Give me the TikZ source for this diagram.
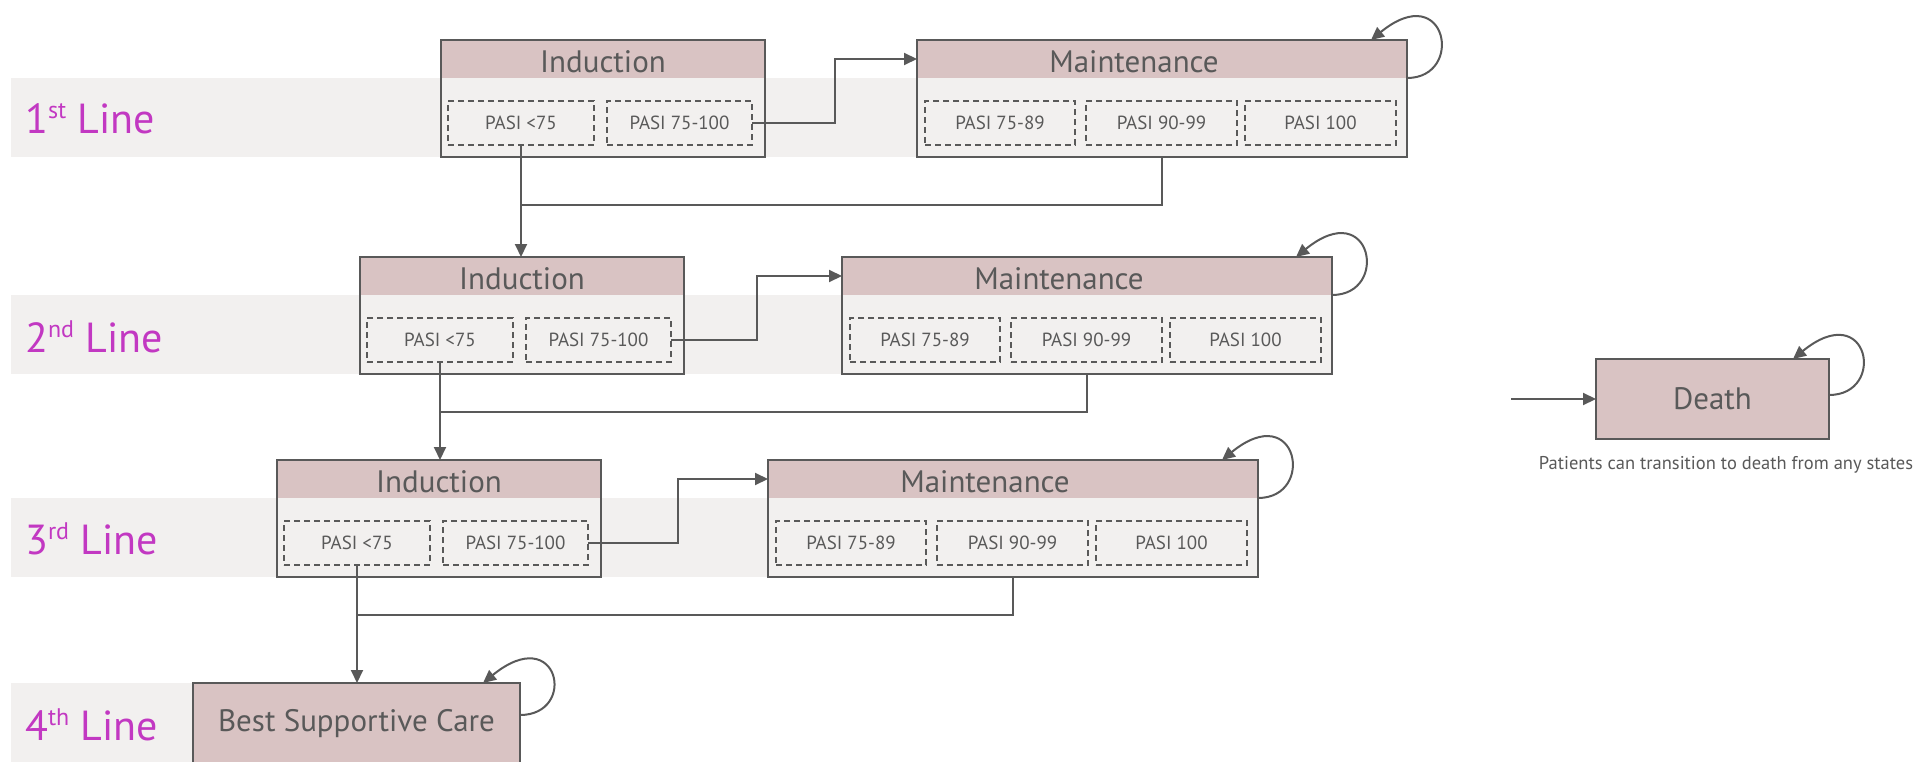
\documentclass[tikz,border=0pt]{standalone}
\usepackage{fontspec}
\setmainfont{PT Sans}
\usetikzlibrary{arrows.meta,calc}

\definecolor{frame}{RGB}{89,89,89}
\definecolor{hdr}{RGB}{217,195,195}
\definecolor{body}{RGB}{242,240,239}
\definecolor{band}{RGB}{242,240,239}
\definecolor{lbl}{RGB}{194,56,194}
\definecolor{ink}{RGB}{89,89,89}

% raised ordinal suffix for the treatment-line labels
\newcommand\ordsup[1]{\raisebox{15pt}{\fontsize{24}{24}\selectfont #1}}

\tikzset{
  stage/.style={draw=frame, line width=2pt, fill=body, anchor=north west,
    inner sep=0pt, outer sep=0pt, text=ink, font=\fontsize{31}{31}\selectfont},
  indbox/.style={stage, minimum width=324pt, minimum height=117pt},
  mntbox/.style={stage, minimum width=490pt, minimum height=117pt},
  frameline/.style={draw=frame, line width=2pt},
  hdtext/.style={text=ink, font=\fontsize{31}{31}\selectfont, inner sep=0pt},
  pasi/.style={draw=frame, line width=2pt, dash pattern=on 6pt off 4pt,
    anchor=north west, minimum height=44pt, inner sep=0pt, outer sep=0pt,
    text=ink, font=\fontsize{19}{19}\selectfont},
  linelabel/.style={anchor=base west, text=lbl, inner sep=0pt,
    font=\fontsize{42}{42}\selectfont},
  conn/.style={draw=frame, line width=2pt},
  flow/.style={conn, -{Triangle[length=13pt,width=12pt]}},
}

\begin{document}
\begin{tikzpicture}[x=1pt, y=-1pt]
\useasboundingbox (0,0) rectangle (1921,762);

% treatment lines 1--3: band, induction box, maintenance box
\foreach \r/\il/\t/\ml in {1/441/40/917, 2/360/257/842, 3/277/460/768}{
  \fill[band] (11,\t+38) rectangle (\ml,\t+117);
  % induction
  \node[indbox] (ind\r) at (\il,\t) {};
  \fill[hdr] (ind\r.north west) rectangle ($(ind\r.north east)+(0,38)$);
  \draw[frameline] (ind\r.north west) rectangle (ind\r.south east);
  \node[hdtext] (indh\r) at ($(ind\r.north)+(0,22)$) {Induction};
  \node[pasi, minimum width=146pt] (lo\r) at ($(ind\r.north west)+(7,61)$) {PASI <75};
  \node[pasi, minimum width=145pt] (hi\r) at ($(ind\r.north west)+(166,61)$) {PASI 75-100};
  % maintenance
  \node[mntbox] (mnt\r) at (\ml,\t) {};
  \fill[hdr] (mnt\r.north west) rectangle ($(mnt\r.north east)+(0,38)$);
  \draw[frameline] (mnt\r.north west) rectangle (mnt\r.south east);
  \node[hdtext] (mnth\r) at ($(mnt\r.north)+(-28,22)$) {Maintenance};
  \coordinate (mh\r) at ($(mnt\r.north west)+(0,19)$);
  \node[pasi, minimum width=150pt] (ma\r) at ($(mnt\r.north west)+(8,61)$) {PASI 75-89};
  \node[pasi, minimum width=151pt] (mb\r) at ($(mnt\r.north west)+(169,61)$) {PASI 90-99};
  \node[pasi, minimum width=151pt] (mc\r) at ($(mnt\r.north west)+(328,61)$) {PASI 100};
  % response to maintenance
  \draw[flow] (hi\r.east) -| ($(hi\r.east)!.5!(mh\r)$) |- (mh\r);
  % stay in maintenance
  \draw[flow] ($(mnt\r.north east)+(0,38)$) .. controls +(58,0) and +(76,-62) .. ($(mnt\r.north east)+(-36,0)$);
}

% line 4: best supportive care
\fill[band] (11,683) rectangle (193,762);
\node[stage, fill=hdr, minimum width=327pt, minimum height=82pt] (bsc) at (193,683) {Best Supportive Care};

% labels of the treatment lines
\node[linelabel] (lab1) at (25,134) {1\ordsup{st} Line};
\node[linelabel] (lab2) at (25,352) {2\ordsup{nd} Line};
\node[linelabel] (lab3) at (25,554) {3\ordsup{rd} Line};
\node[linelabel] (lab4) at (25,740) {4\ordsup{th} Line};

% junctions where failed maintenance joins failed induction
\coordinate (j1) at ($(lo1.south)+(0,60)$);
\coordinate (j2) at ($(lo2.south)+(0,50)$);
\coordinate (j3) at ($(lo3.south)+(0,50)$);
\foreach \r in {1,2,3}{
  \draw[conn] (mb\r.south |- mnt\r.south) |- (j\r);
}

% move on to the next line of treatment
\draw[flow] (lo1.south) -- (lo1.south |- ind2.north);
\draw[flow] (lo2.south) -- (lo2.south |- ind3.north);
\draw[flow] (lo3.south) -- (lo3.south |- bsc.north);

% stay in best supportive care
\draw[flow] ($(bsc.north east)+(0,32)$) .. controls +(58,0) and +(76,-62) .. ($(bsc.north east)+(-37,0)$);

% death
\node[stage, fill=hdr, minimum width=233pt, minimum height=80pt] (death) at (1596,359) {Death};
\coordinate (din) at (1511,399);
\draw[flow] (din) -- (death.west);
\draw[flow] ($(death.north east)+(0,36)$) .. controls +(58,0) and +(76,-62) .. ($(death.north east)+(-36,0)$);
\node[text=ink, font=\fontsize{18.5}{18.5}\selectfont, inner sep=0pt] (note) at (1726,465)
  {Patients can transition to death from any states};
\end{tikzpicture}
\end{document}
